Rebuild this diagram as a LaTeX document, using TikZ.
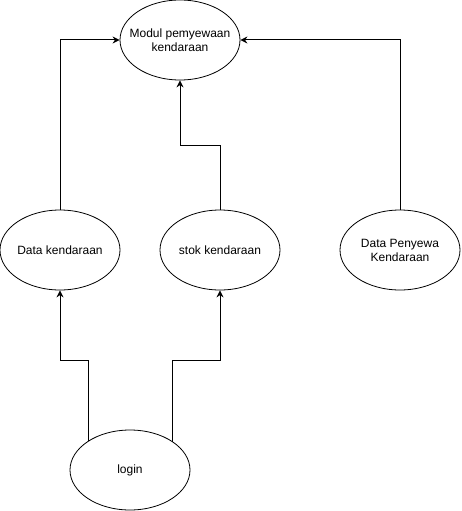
\documentclass[tikz,border=0pt]{standalone}
\usepackage{fontspec}
\setmainfont{Liberation Sans}
\usetikzlibrary{shapes.geometric}
\usetikzlibrary{arrows.meta}
\begin{document}
\begin{tikzpicture}[x=1pt,y=-1pt,line cap=rect,
	procnode/.style={ellipse, draw, line width=0.8pt, minimum width=120pt, minimum height=80pt, inner sep=0},
	proctext/.style={inner sep=0, align=center, font=\fontsize{12pt}{14pt}\selectfont},
	flowline/.style={line width=1.0pt, -{Stealth[length=7pt,width=7pt]}}]
	\useasboundingbox (0,0) rectangle (461,511);
	\node[procnode, label={[proctext]center:Modul pemyewaan\\kendaraan}] (modul) at (180,40) {};
	\node[procnode, label={[proctext]center:Data kendaraan}] (datakend) at (60,250) {};
	\node[procnode, label={[proctext]center:stok kendaraan}] (stok) at (220,250) {};
	\node[procnode, label={[proctext]center:Data Penyewa\\Kendaraan}] (penyewa) at (400,250) {};
	\node[procnode, label={[proctext]center:login}] (login) at (130,470) {};
	\draw [flowline] (datakend.north) |- (modul.west);
	\draw [flowline] (penyewa.north) |- (modul.east);
	\draw [flowline] (stok.north) -- ++(0,-64) -| (modul.south);
	\draw [flowline] (login.145.7) -- (login.145.7 |- 0,360) -| (datakend.south);
	\draw [flowline] (login.34.3) -- (login.34.3 |- 0,360) -| (stok.south);
\end{tikzpicture}
\end{document}
